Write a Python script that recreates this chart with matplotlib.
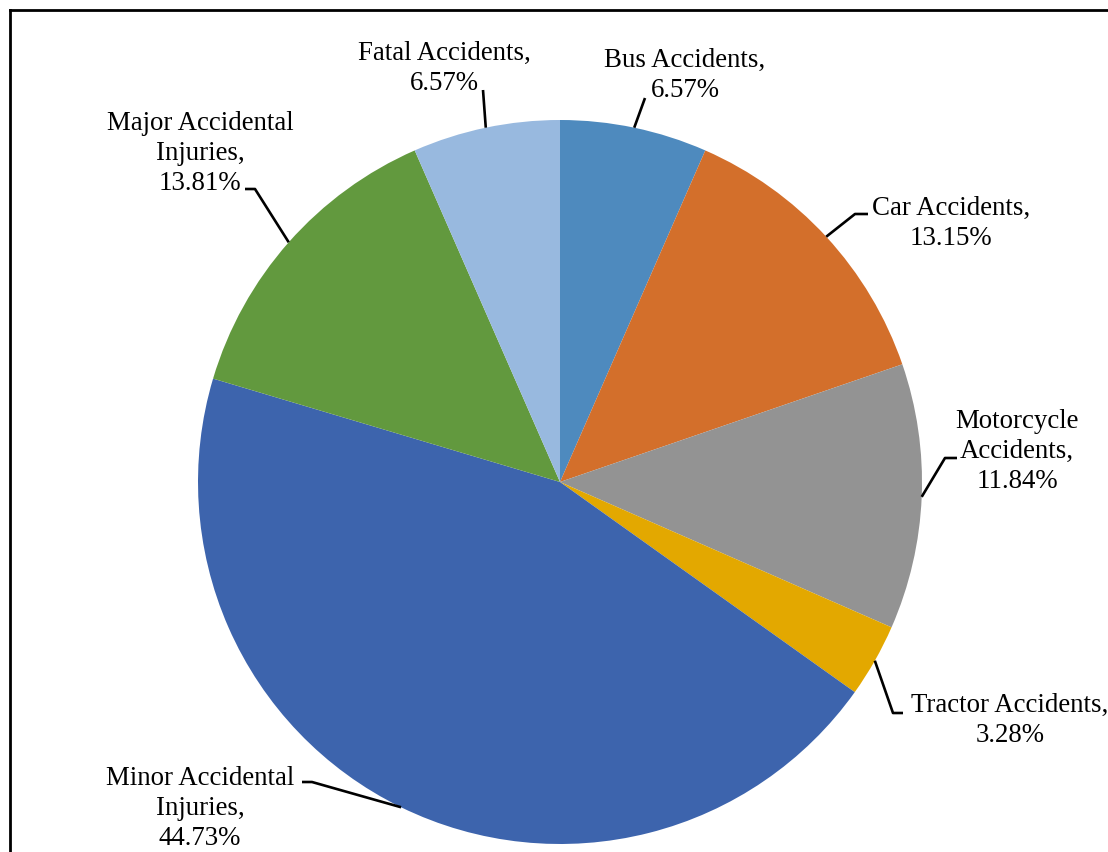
import matplotlib
matplotlib.use("Agg")
import matplotlib.pyplot as plt
from matplotlib.lines import Line2D
import numpy as np

# ---- data ----
categories = ["Bus Accidents", "Car Accidents", "Motorcycle Accidents", "Tractor Accidents",
              "Minor Accidental Injuries", "Major Accidental Injuries", "Fatal Accidents"]
values = [6.57, 13.15, 11.84, 3.28, 44.73, 13.81, 6.57]
colors = ["#4E8ABE", "#D36F2B", "#939393", "#E3A800", "#3D64AD", "#62993E", "#98B9DF"]
# how each category name is wrapped in its label
name_lines = [["Bus Accidents,"], ["Car Accidents,"], ["Motorcycle", "Accidents,"],
              ["Tractor Accidents,"], ["Minor Accidental", "Injuries,"],
              ["Major Accidental", "Injuries,"], ["Fatal Accidents,"]]

# ---- layout (pixel space of the 1108x852 image) ----
W, H = 1108, 852
CX, CY, R = 560, 482, 362
# text centre x, first baseline y
label_pos = [(685, 67), (951, 215), (1017, 428), (1010, 712), (200, 785), (200, 130), (444, 60)]
# leader points after the pie edge point (elbow(s) towards the label)
leader_pts = [[(645, 98)], [(855, 214), (868, 214)], [(945, 458), (957, 458)],
              [(893, 713), (903, 713)], [(312, 782), (302, 782)],
              [(255, 189), (245, 189)], [(483, 90)]]
LINE_STEP = 30


def px(x, y):
    return ((x - CX) / R, (CY - y) / R)


plt.rcParams["font.family"] = ["Liberation Serif", "DejaVu Serif"]
fig = plt.figure(figsize=(W / 100, H / 100), dpi=100)
ax = fig.add_axes([0, 0, 1, 1])
wedges, _ = ax.pie(values, colors=colors, startangle=90, counterclock=False,
                   radius=1, center=(0, 0), wedgeprops=dict(linewidth=0))
ax.set_xlim(-CX / R, (W - CX) / R)
ax.set_ylim(-(H - CY) / R, CY / R)
ax.set_aspect("auto")
ax.axis("off")

for w, v, names, (tx, ty), pts in zip(wedges, values, name_lines, label_pos, leader_pts):
    mid = np.deg2rad((w.theta1 + w.theta2) / 2)
    xs = [np.cos(mid)] + [px(*p)[0] for p in pts]
    ys = [np.sin(mid)] + [px(*p)[1] for p in pts]
    ax.plot(xs, ys, color="black", lw=1.9, solid_capstyle="butt")
    lines = names + [f"{v:.2f}%"]
    for i, s in enumerate(lines):
        x, y = px(tx, ty + i * LINE_STEP)
        ax.text(x, y, s, ha="center", va="baseline", fontsize=19.4, color="black")

# outer frame (top and left edges visible)
fig.add_artist(Line2D([10 / W, 10 / W], [0, 1 - 10 / H], transform=fig.transFigure,
                      color="black", lw=2, solid_capstyle="projecting"))
fig.add_artist(Line2D([10 / W, 1], [1 - 10 / H, 1 - 10 / H], transform=fig.transFigure,
                      color="black", lw=2, solid_capstyle="projecting"))

fig.savefig("out.png", dpi=100, facecolor="white")
